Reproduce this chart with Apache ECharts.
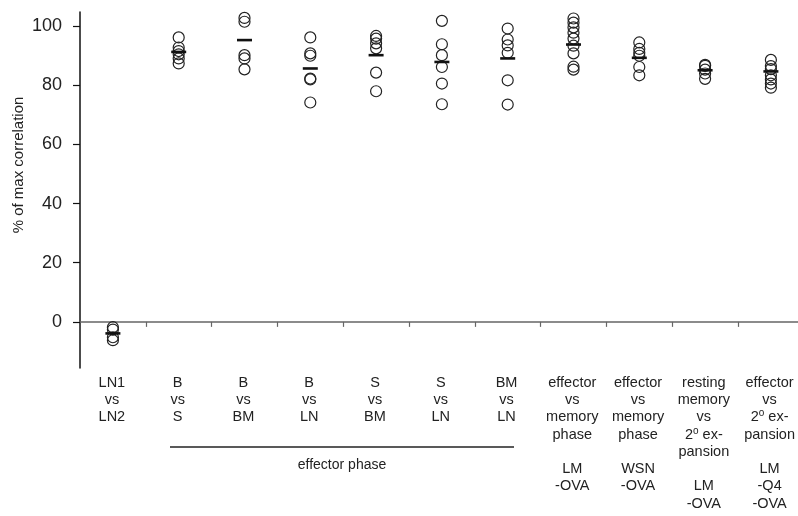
<!DOCTYPE html>
<html>
<head>
<meta charset="utf-8">
<script src="https://cdn.jsdelivr.net/npm/echarts@6/dist/echarts.min.js"></script>
<style>html,body{margin:0;padding:0;background:#fff}#c{width:798px;height:516px}</style>
</head>
<body>
<div id="c"></div>
<script>
// ---- data ----
const categories = [
  'LN1\nvs\nLN2',
  'B\nvs\nS',
  'B\nvs\nBM',
  'B\nvs\nLN',
  'S\nvs\nBM',
  'S\nvs\nLN',
  'BM\nvs\nLN',
  'effector\nvs\nmemory\nphase\n\nLM\n-OVA',
  'effector\nvs\nmemory\nphase\n\nWSN\n-OVA',
  'resting\nmemory\nvs\n2{sup|o} ex-\npansion\n\nLM\n-OVA',
  'effector\nvs\n2{sup|o} ex-\npansion\n\nLM\n-Q4\n-OVA'
];
const ln1_ln2 = [-1.8, -2.6, -5.2, -6.2];
const b_s = [96.2, 92.8, 91.6, 90.5, 89.1, 87.4];
const b_bm = [102.8, 101.5, 90.2, 89.1, 85.4];
const b_ln = [96.2, 90.8, 90.0, 82.3, 82.0, 74.2];
const s_bm = [96.7, 95.8, 94.2, 92.5, 84.3, 78.0];
const s_ln = [101.8, 93.9, 90.2, 86.2, 80.6, 73.6];
const bm_ln = [99.2, 95.5, 93.5, 91.0, 81.7, 73.5];
const eff_mem_lm = [102.6, 101.2, 99.6, 97.8, 95.8, 93.4, 90.8, 86.3, 85.3];
const eff_mem_wsn = [94.5, 92.3, 91.0, 90.0, 86.2, 83.4];
const rest_2nd_lm = [86.9, 86.6, 85.3, 84.0, 82.2];
const eff_2nd_q4 = [88.6, 86.5, 85.5, 83.4, 82.0, 80.6, 79.2];
const groupMeans = [-3.9, 91.3, 95.3, 85.7, 90.2, 87.9, 89.1, 93.8, 89.3, 85.1, 84.7];
const yTicks = [0, 20, 40, 60, 80, 100];
const groupLabel = 'effector phase';
const yTitle = '% of max correlation';

const groups = [ln1_ln2, b_s, b_bm, b_ln, s_bm, s_ln, bm_ln, eff_mem_lm, eff_mem_wsn, rest_2nd_lm, eff_2nd_q4];
const pointData = [];
groups.forEach((g, i) => g.forEach(v => pointData.push([i, v])));
const meanData = groupMeans.map((m, i) => [i, m]);
const catIdx = categories.map((c, i) => i);
const boundaries = categories.slice(1).map((c, i) => i + 0.5);

const font = 'Liberation Sans, Arial, sans-serif';
const chart = echarts.init(document.getElementById('c'), null, {renderer: 'canvas'});
chart.setOption({
  animation: false,
  backgroundColor: '#fff',
  grid: [
    {left: 80, top: 12, bottom: 148, right: 0},
    {left: 79, top: 12, bottom: 148, right: 0}
  ],
  xAxis: [
    {
      type: 'value', gridIndex: 0, min: -0.5, max: 10.412,
      axisLine: {onZero: true, lineStyle: {color: '#666', width: 1.5}},
      axisTick: {show: true, customValues: boundaries, length: 5, lineStyle: {color: '#666', width: 1.2}},
      axisLabel: {show: false},
      splitLine: {show: false}
    },
    {
      type: 'value', gridIndex: 1, min: -0.5, max: 10.345,
      axisLine: {show: false}, axisTick: {show: false}, splitLine: {show: false},
      axisLabel: {
        customValues: catIdx,
        formatter: v => categories[Math.round(v)] || '',
        margin: 6, color: '#222', fontFamily: font, fontSize: 14.5, lineHeight: 17.3,
        rich: {sup: {fontSize: 10, lineHeight: 10, verticalAlign: 'top', fontFamily: font, color: '#222'}}
      }
    }
  ],
  yAxis: [
    {
      type: 'value', gridIndex: 0, min: -15.6, max: 104.8,
      axisLine: {show: true, onZero: false, lineStyle: {color: '#111', width: 1.5}},
      axisTick: {show: true, length: 7, customValues: yTicks, lineStyle: {color: '#111', width: 1.2}},
      axisLabel: {customValues: yTicks, margin: 18, fontSize: 18, color: '#222', fontFamily: font},
      splitLine: {show: false}
    },
    {type: 'value', gridIndex: 1, show: false, min: -15.6, max: 104.8}
  ],
  series: [
    {
      type: 'scatter', xAxisIndex: 0, yAxisIndex: 0, data: pointData,
      symbol: 'circle', symbolSize: 11,
      itemStyle: {color: 'rgba(0,0,0,0)', borderColor: '#222', borderWidth: 1.2, opacity: 1},
      emphasis: {disabled: true}
    },
    {
      type: 'scatter', xAxisIndex: 0, yAxisIndex: 0, data: meanData,
      symbol: 'rect', symbolSize: [15, 2.6],
      itemStyle: {color: '#111', opacity: 1},
      z: 3, emphasis: {disabled: true}
    }
  ],
  graphic: [
    {type: 'text', x: 19, y: 165, rotation: Math.PI / 2,
     style: {text: yTitle, font: '15px ' + font, fill: '#222', textAlign: 'center', textVerticalAlign: 'middle'}},
    {type: 'line', shape: {x1: 170, y1: 447, x2: 514, y2: 447}, style: {stroke: '#222', lineWidth: 1.3}},
    {type: 'text', x: 342, y: 465, style: {text: groupLabel, font: '14px ' + font, fill: '#222', textAlign: 'center', textVerticalAlign: 'middle'}}
  ]
});
</script>
</body>
</html>
